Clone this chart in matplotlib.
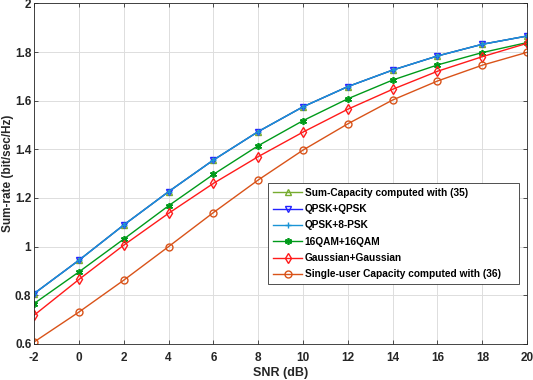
import matplotlib
matplotlib.use("Agg")
import matplotlib.pyplot as plt

# data
snr_db = [-2, 0, 2, 4, 6, 8, 10, 12, 14, 16, 18, 20]
sum_capacity = [0.807, 0.944, 1.089, 1.226, 1.356, 1.473, 1.575, 1.658, 1.726, 1.784, 1.832, 1.866]
qpsk_qpsk = [0.807, 0.944, 1.089, 1.226, 1.356, 1.473, 1.575, 1.658, 1.726, 1.784, 1.832, 1.866]
qpsk_8psk = [0.807, 0.944, 1.089, 1.226, 1.356, 1.473, 1.575, 1.658, 1.726, 1.784, 1.832, 1.866]
qam16_qam16 = [0.766, 0.896, 1.031, 1.168, 1.297, 1.415, 1.518, 1.608, 1.685, 1.747, 1.798, 1.839]
gauss_gauss = [0.718, 0.865, 1.006, 1.137, 1.260, 1.370, 1.471, 1.565, 1.647, 1.721, 1.781, 1.836]
single_user = [0.608, 0.731, 0.862, 1.000, 1.140, 1.274, 1.397, 1.505, 1.603, 1.681, 1.746, 1.799]

labels = ["Sum-Capacity computed with (35)", "QPSK+QPSK", "QPSK+8-PSK",
          "16QAM+16QAM", "Gaussian+Gaussian", "Single-user Capacity computed with (36)"]

plt.rcParams['font.family'] = ['Liberation Sans', 'DejaVu Sans']
plt.rcParams['font.weight'] = 'bold'
plt.rcParams['axes.unicode_minus'] = False

fig = plt.figure(figsize=(5.33, 3.8), dpi=100)
ax = fig.add_axes([0.064, 0.095, 0.925, 0.896])

ms = 5
ax.plot(snr_db, sum_capacity, color='#77AC30', marker='^', ms=ms, mfc='none', lw=1.0, label=labels[0])
ax.plot(snr_db, qpsk_qpsk, color='#2222FF', marker='v', ms=ms, mfc='none', lw=1.0, label=labels[1])
ax.plot(snr_db, qpsk_8psk, color='#1A94D6', marker='+', ms=ms, lw=1.0, label=labels[2])
ax.plot(snr_db, qam16_qam16, color='#009A1A', marker=(6, 2, 0), ms=ms, mew=1.2, lw=1.0, label=labels[3])
ax.plot(snr_db, gauss_gauss, color='#FF1A1A', marker='d', ms=ms, mfc='none', lw=1.0, label=labels[4])
ax.plot(snr_db, single_user, color='#D95319', marker='o', ms=ms, mfc='none', lw=1.0, label=labels[5])

ax.set_xlim(-2, 20)
ax.set_ylim(0.6, 2.0)
ax.set_xticks(snr_db)
ax.set_yticks([0.6, 0.8, 1.0, 1.2, 1.4, 1.6, 1.8, 2.0])
ax.set_yticklabels(['0.6', '0.8', '1', '1.2', '1.4', '1.6', '1.8', '2'])
ax.grid(True, color='#DDDDDD', lw=0.7)
ax.tick_params(direction='in', top=True, right=True, length=3, width=0.6,
               color='#333333', labelsize=8.5, labelcolor='#262626')
ax.tick_params(axis='x', pad=6)
ax.tick_params(axis='y', pad=2)
for s in ax.spines.values():
    s.set_color('#262626')
    s.set_linewidth(0.6)

ax.set_xlabel('SNR (dB)', fontsize=9, fontweight='bold', color='#262626')
ax.set_ylabel('Sum-rate (bit/sec/Hz)', fontsize=8.5, fontweight='bold', color='#262626')
ax.xaxis.set_label_coords(0.5, -0.068)
ax.yaxis.set_label_coords(-0.0415, 0.5)

leg = ax.legend(loc='upper left', bbox_to_anchor=(0.475, 0.473, 0.509, 0), mode='expand',
                borderaxespad=0, fontsize=7.3,
                fancybox=False, framealpha=1, edgecolor='#333333',
                handlelength=2.8, labelspacing=0.62, borderpad=0.5, handletextpad=0.3)
leg.get_frame().set_linewidth(0.6)

fig.savefig('out.png', dpi=100)
